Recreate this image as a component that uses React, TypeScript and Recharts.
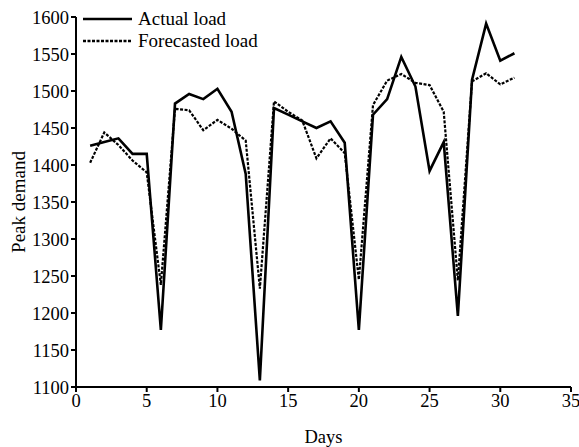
import { LineChart, Line, XAxis, YAxis } from "recharts";

const days = [1, 2, 3, 4, 5, 6, 7, 8, 9, 10, 11, 12, 13, 14, 15, 16, 17, 18, 19, 20, 21, 22, 23, 24, 25, 26, 27, 28, 29, 30, 31];
const actualLoad = [1426, 1431, 1436, 1415, 1415, 1177, 1483, 1496, 1489, 1503, 1472, 1388, 1109, 1477, 1468, 1459, 1450, 1459, 1430, 1177, 1468, 1489, 1546, 1506, 1392, 1431, 1196, 1515, 1591, 1541, 1551];
const forecastedLoad = [1403, 1444, 1427, 1406, 1390, 1238, 1476, 1474, 1447, 1461, 1449, 1433, 1233, 1486, 1472, 1460, 1409, 1436, 1416, 1245, 1481, 1514, 1523, 1511, 1508, 1472, 1244, 1513, 1524, 1509, 1518];
const xTicks = [0, 5, 10, 15, 20, 25, 30, 35];
const yTicks = [1100, 1150, 1200, 1250, 1300, 1350, 1400, 1450, 1500, 1550, 1600];

const data = days.map((day, i) => ({
  day,
  actual: actualLoad[i],
  forecast: forecastedLoad[i],
}));

const font = "'Liberation Serif', 'Times New Roman', serif";
const tickStyle = { fontSize: 18.5, fill: "#000", fontFamily: font };

// legend sits inside the plot, top left
function LegendBox() {
  const rows = [
    { label: "Actual load", dash: undefined },
    { label: "Forecasted load", dash: "3 1.5" },
  ];
  return (
    <div
      style={{
        position: "absolute",
        left: 83,
        top: 8,
        fontFamily: font,
        fontSize: 19,
        color: "#000",
        lineHeight: "22px",
      }}
    >
      {rows.map((r) => (
        <div key={r.label} style={{ display: "flex", alignItems: "center" }}>
          <svg width={55} height={10}>
            <line x1={0} y1={5} x2={49} y2={5} stroke="#000" strokeWidth={2.5} strokeDasharray={r.dash} />
          </svg>
          <span>{r.label}</span>
        </div>
      ))}
    </div>
  );
}

export default function App() {
  return (
    <div style={{ position: "absolute", left: 0, top: 0, width: 579, height: 447, background: "#fff" }}>
      <LineChart width={579} height={447} data={data} margin={{ top: 17, right: 8, left: 0, bottom: 0 }}>
        <XAxis
          dataKey="day"
          type="number"
          domain={[0, 35]}
          ticks={xTicks}
          interval={0}
          axisLine={{ stroke: "#000", strokeWidth: 2 }}
          tickLine={{ stroke: "#000", strokeWidth: 2 }}
          tickSize={5}
          tick={tickStyle}
          height={60}
          label={{ value: "Days", position: "insideBottom", offset: 4, style: tickStyle }}
        />
        <YAxis
          type="number"
          domain={[1100, 1600]}
          ticks={yTicks}
          interval={0}
          axisLine={{ stroke: "#000", strokeWidth: 2 }}
          tickLine={{ stroke: "#000", strokeWidth: 2 }}
          tickSize={5}
          tick={tickStyle}
          width={76}
          label={{
            value: "Peak demand",
            angle: -90,
            position: "insideLeft",
            offset: 18,
            style: { ...tickStyle, fontSize: 19, textAnchor: "middle" },
          }}
        />
        <Line
          type="linear"
          dataKey="actual"
          stroke="#000"
          strokeWidth={2.6}
          dot={false}
          isAnimationActive={false}
        />
        <Line
          type="linear"
          dataKey="forecast"
          stroke="#000"
          strokeWidth={2.2}
          strokeDasharray="3 1.5"
          dot={false}
          isAnimationActive={false}
        />
      </LineChart>
      <LegendBox />
    </div>
  );
}
